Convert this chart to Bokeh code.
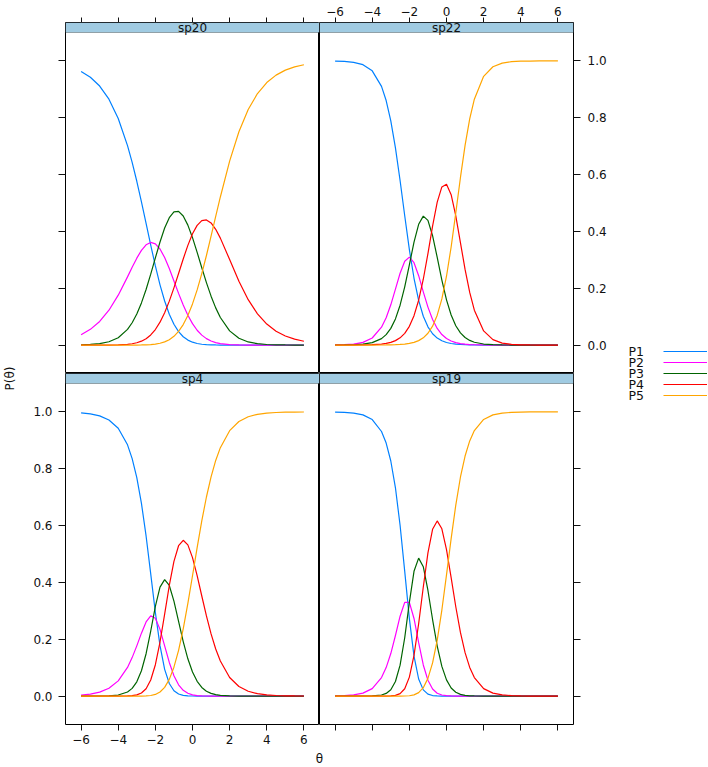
import math
from bokeh.plotting import figure
from bokeh.models import (Range1d, LinearAxis, FixedTicker, NumeralTickFormatter,
                          CustomJSTickFormatter, BoxAnnotation, Label)
from bokeh.layouts import row, column
from bokeh.embed import file_html
from bokeh.resources import INLINE

# ---------------- data ----------------
categories = ["P1", "P2", "P3", "P4", "P5"]

theta = [-6, -5.5, -5, -4.5, -4, -3.5, -3.25, -3, -2.75, -2.5, -2.25, -2, -1.75, -1.5,
         -1.25, -1, -0.75, -0.5, -0.25, 0, 0.25, 0.5, 0.75, 1, 1.25, 1.5, 2, 2.5, 3,
         3.5, 4, 4.5, 5, 5.5, 6]

sp20_P1 = [0.9626, 0.9424, 0.9116, 0.8654, 0.7976, 0.7021, 0.6430, 0.5765, 0.5041, 0.4282,
           0.3518, 0.2786, 0.2121, 0.1550, 0.1087, 0.0732, 0.0473, 0.0294, 0.0176, 0.0102,
           0.0056, 0.0030, 0.0016, 0.0008, 0.0004, 0.0002, 0, 0, 0, 0, 0, 0, 0, 0, 0]
sp20_P2 = [0.0365, 0.0554, 0.0832, 0.1227, 0.1756, 0.2400, 0.2738, 0.3059, 0.3334, 0.3528,
           0.3612, 0.3564, 0.3381, 0.3080, 0.2692, 0.2258, 0.1819, 0.1410, 0.1051, 0.0755,
           0.0523, 0.0350, 0.0227, 0.0143, 0.0087, 0.0052, 0.0017, 0.0005, 0.0002,
           0, 0, 0, 0, 0, 0]
sp20_P3 = [0.0009, 0.0022, 0.0051, 0.0117, 0.0260, 0.0552, 0.0785, 0.1093, 0.1484, 0.1956,
           0.2496, 0.3069, 0.3628, 0.4118, 0.4484, 0.4687, 0.4706, 0.4543, 0.4222, 0.3780,
           0.3264, 0.2723, 0.2198, 0.1721, 0.1309, 0.0971, 0.0500, 0.0240, 0.0110, 0.0049,
           0.0021, 0.0009, 0.0004, 0.0002, 0.0001]
sp20_P4 = [0, 0, 0.0001, 0.0002, 0.0008, 0.0026, 0.0047, 0.0081, 0.0137, 0.0225,
           0.0357, 0.0547, 0.0806, 0.1139, 0.1546, 0.2014, 0.2520, 0.3031, 0.3509, 0.3915,
           0.4213, 0.4380, 0.4406, 0.4297, 0.4073, 0.3764, 0.3010, 0.2248, 0.1599, 0.1100,
           0.0739, 0.0490, 0.0321, 0.0209, 0.0136]
sp20_P5 = [0, 0, 0, 0, 0, 0, 0.0001, 0.0002, 0.0004, 0.0009,
           0.0018, 0.0035, 0.0064, 0.0113, 0.0190, 0.0309, 0.0482, 0.0722, 0.1042, 0.1448,
           0.1942, 0.2516, 0.3153, 0.3832, 0.4527, 0.5212, 0.6472, 0.7506, 0.8289, 0.8851,
           0.9240, 0.9501, 0.9675, 0.9789, 0.9864]

sp22_P1 = [0.9993, 0.9982, 0.9951, 0.9869, 0.9651, 0.9105, 0.8606, 0.7892, 0.6942, 0.5793,
           0.4551, 0.3362, 0.2351, 0.1571, 0.1015, 0.0642, 0.0399, 0.0246, 0.0151, 0.0092,
           0.0056, 0.0034, 0.0021, 0.0013, 0.0008, 0.0005, 0.0002, 0.0001,
           0, 0, 0, 0, 0, 0, 0]
sp22_P2 = [0.0005, 0.0013, 0.0035, 0.0094, 0.0249, 0.0629, 0.0963, 0.1417, 0.1967, 0.2527,
           0.2952, 0.3095, 0.2899, 0.2442, 0.1875, 0.1336, 0.0902, 0.0586, 0.0370, 0.0231,
           0.0142, 0.0087, 0.0053, 0.0032, 0.0019, 0.0012, 0.0004, 0.0001,
           0, 0, 0, 0, 0, 0, 0]
sp22_P3 = [0.0002, 0.0004, 0.0012, 0.0032, 0.0085, 0.0228, 0.0368, 0.0588, 0.0921, 0.1404,
           0.2049, 0.2826, 0.3620, 0.4251, 0.4537, 0.4387, 0.3849, 0.3085, 0.2288, 0.1592,
           0.1058, 0.0681, 0.0428, 0.0266, 0.0164, 0.0100, 0.0037, 0.0014, 0.0005, 0.0002,
           0.0001, 0, 0, 0, 0]
sp22_P4 = [0, 0.0001, 0.0002, 0.0005, 0.0013, 0.0036, 0.0058, 0.0096, 0.0157, 0.0255,
           0.0413, 0.0659, 0.1034, 0.1579, 0.2317, 0.3220, 0.4184, 0.5030, 0.5566, 0.5662,
           0.5292, 0.4547, 0.3608, 0.2663, 0.1852, 0.1230, 0.0499, 0.0190, 0.0071, 0.0026,
           0.0009, 0.0004, 0.0001, 0, 0]
sp22_P5 = [0, 0, 0, 0, 0.0001, 0.0003, 0.0005, 0.0008, 0.0013, 0.0022,
           0.0035, 0.0058, 0.0096, 0.0157, 0.0256, 0.0415, 0.0666, 0.1053, 0.1625, 0.2423,
           0.3452, 0.4651, 0.5890, 0.7026, 0.7957, 0.8653, 0.9458, 0.9794, 0.9923, 0.9972,
           0.9990, 0.9996, 0.9999, 1.0, 1.0]

sp4_P1 = [0.9966, 0.9931, 0.9860, 0.9717, 0.9427, 0.8842, 0.8358, 0.7687, 0.6784, 0.5635,
          0.4300, 0.2941, 0.1774, 0.0942, 0.0444, 0.0189, 0.0074, 0.0027, 0.0009, 0.0003,
          0.0001, 0, 0, 0, 0, 0, 0, 0, 0, 0, 0, 0, 0, 0, 0]
sp4_P2 = [0.0034, 0.0069, 0.0138, 0.0274, 0.0535, 0.1010, 0.1354, 0.1767, 0.2214, 0.2609,
          0.2825, 0.2742, 0.2348, 0.1768, 0.1184, 0.0716, 0.0397, 0.0204, 0.0098, 0.0045,
          0.0019, 0.0008, 0.0003, 0.0001, 0, 0, 0, 0, 0, 0, 0, 0, 0, 0, 0]
sp4_P3 = [0, 0.0001, 0.0002, 0.0010, 0.0037, 0.0142, 0.0271, 0.0501, 0.0891, 0.1490,
          0.2290, 0.3154, 0.3832, 0.4096, 0.3892, 0.3340, 0.2628, 0.1919, 0.1312, 0.0847,
          0.0519, 0.0304, 0.0171, 0.0094, 0.0050, 0.0026, 0.0007, 0.0002,
          0, 0, 0, 0, 0, 0, 0]
sp4_P4 = [0, 0, 0, 0, 0.0001, 0.0006, 0.0016, 0.0043, 0.0109, 0.0259,
          0.0565, 0.1104, 0.1903, 0.2887, 0.3892, 0.4739, 0.5291, 0.5483, 0.5321, 0.4871,
          0.4236, 0.3522, 0.2820, 0.2189, 0.1658, 0.1232, 0.0653, 0.0336, 0.0170, 0.0085,
          0.0042, 0.0021, 0.0010, 0.0005, 0.0003]
sp4_P5 = [0, 0, 0, 0, 0, 0, 0, 0.0001, 0.0002, 0.0007,
          0.0021, 0.0058, 0.0143, 0.0307, 0.0588, 0.1016, 0.1610, 0.2367, 0.3260, 0.4235,
          0.5225, 0.6166, 0.7006, 0.7716, 0.8293, 0.8742, 0.9340, 0.9662, 0.9830, 0.9915,
          0.9958, 0.9979, 0.9990, 0.9995, 0.9997]

sp19_P1 = [0.9994, 0.9984, 0.9960, 0.9896, 0.9731, 0.9311, 0.8903, 0.8273, 0.7330, 0.6010,
           0.4387, 0.2726, 0.1404, 0.0601, 0.0218, 0.0069, 0.0019, 0.0005, 0.0001, 0,
           0, 0, 0, 0, 0, 0, 0, 0, 0, 0, 0, 0, 0, 0, 0]
sp19_P2 = [0.0006, 0.0016, 0.0040, 0.0104, 0.0263, 0.0651, 0.1002, 0.1497, 0.2132, 0.2811,
           0.3299, 0.3297, 0.2731, 0.1878, 0.1095, 0.0556, 0.0251, 0.0102, 0.0038, 0.0013,
           0.0004, 0.0001, 0, 0, 0, 0, 0, 0, 0, 0, 0, 0, 0, 0, 0]
sp19_P3 = [0, 0, 0, 0.0001, 0.0006, 0.0038, 0.0093, 0.0224, 0.0513, 0.1087,
           0.2052, 0.3297, 0.4391, 0.4855, 0.4554, 0.3716, 0.2694, 0.1759, 0.1045, 0.0569,
           0.0286, 0.0134, 0.0059, 0.0025, 0.0010, 0.0004, 0.0001, 0, 0, 0,
           0, 0, 0, 0, 0]
sp19_P4 = [0, 0, 0, 0, 0, 0, 0.0002, 0.0007, 0.0025, 0.0085,
           0.0259, 0.0668, 0.1431, 0.2545, 0.3838, 0.5037, 0.5870, 0.6164, 0.5888, 0.5155,
           0.4168, 0.3144, 0.2239, 0.1528, 0.1010, 0.0653, 0.0263, 0.0104, 0.0040, 0.0016,
           0.0006, 0.0002, 0.0001, 0, 0]
sp19_P5 = [0, 0, 0, 0, 0, 0, 0, 0, 0, 0.0001,
           0.0003, 0.0012, 0.0043, 0.0122, 0.0295, 0.0623, 0.1168, 0.1971, 0.3028, 0.4263,
           0.5542, 0.6721, 0.7701, 0.8447, 0.8979, 0.9342, 0.9736, 0.9896, 0.9960, 0.9984,
           0.9994, 0.9998, 0.9999, 1.0, 1.0]

x_ticks = [-6, -4, -2, 0, 2, 4, 6]
y_ticks = [0.0, 0.2, 0.4, 0.6, 0.8, 1.0]
XLIM = (-6.84, 6.84)
YLIM = (-0.1, 1.1)

# ---------------- style / layout ----------------
COLORS = ["#0080ff", "#ff00ff", "#006400", "#ff0000", "#ffa500"]
STRIP_COLOR = "#a0cbe2"
FONT = "DejaVu Sans"
TICK_FONT = "12px"
INK = "#111111"

PLOT_W, PLOT_H, STRIP_H = 254, 341, 10
TOP_B, BOT_B, LEFT_B, RIGHT_B = 22, 24, 41, 36
YLAB_W, LEG_W, XLAB_H = 24, 98, 17
strip_units = (YLIM[1] - YLIM[0]) * STRIP_H / PLOT_H
Y_END = YLIM[1] + strip_units

minus_fmt = CustomJSTickFormatter(code="return tick < 0 ? '\u2212' + String(-tick) : String(tick);")


def make_axis(kind, show_labels, tick_len, standoff):
    if kind == "x":
        ax = LinearAxis(ticker=FixedTicker(ticks=x_ticks), formatter=minus_fmt)
    else:
        ax = LinearAxis(ticker=FixedTicker(ticks=y_ticks),
                        formatter=NumeralTickFormatter(format="0.0"))
    ax.axis_line_color = None
    ax.major_tick_line_color = INK
    ax.major_tick_in = 0
    ax.major_tick_out = tick_len
    ax.minor_tick_line_color = None
    ax.major_label_standoff = standoff
    ax.major_label_text_font = FONT
    ax.major_label_text_font_size = TICK_FONT
    ax.major_label_text_color = INK if show_labels else None
    return ax


def make_panel(name, th, series, top, left):
    w = PLOT_W + (LEFT_B if left else RIGHT_B)
    h = PLOT_H + STRIP_H + (TOP_B if top else BOT_B)
    p = figure(width=w, height=h, x_range=Range1d(*XLIM), y_range=Range1d(YLIM[0], Y_END),
               toolbar_location=None, output_backend="svg",
               x_axis_location=None, y_axis_location=None)
    p.min_border_left = LEFT_B if left else 0
    p.min_border_right = 0 if left else RIGHT_B
    p.min_border_top = TOP_B if top else 0
    p.min_border_bottom = 0 if top else BOT_B
    p.outline_line_color = "black"
    p.outline_line_width = 1
    p.grid.grid_line_color = None
    p.background_fill_color = "white"
    p.border_fill_color = "white"

    for vals, col in zip(series, COLORS):
        p.line(th, vals, line_color=col, line_width=1.2)

    # strip
    p.add_layout(BoxAnnotation(bottom=YLIM[1], fill_color=STRIP_COLOR, fill_alpha=1.0,
                               line_color="black", line_width=1))
    p.add_layout(Label(x=0, y=YLIM[1] + strip_units / 2, text=name, text_align="center",
                       text_baseline="middle", text_font=FONT, text_font_size="12px",
                       text_color=INK))

    # lattice alternating axes
    if top:
        p.add_layout(make_axis("x", not left, 5, 2), "above")
    else:
        p.add_layout(make_axis("x", left, 6, 4), "below")
    if left:
        p.add_layout(make_axis("y", not top, 7, 6), "left")
    else:
        p.add_layout(make_axis("y", top, 7, 7), "right")
    return p


f_tl = make_panel("sp20", theta, [sp20_P1, sp20_P2, sp20_P3, sp20_P4, sp20_P5], True, True)
f_tr = make_panel("sp22", theta, [sp22_P1, sp22_P2, sp22_P3, sp22_P4, sp22_P5], True, False)
f_bl = make_panel("sp4", theta, [sp4_P1, sp4_P2, sp4_P3, sp4_P4, sp4_P5], False, True)
f_br = make_panel("sp19", theta, [sp19_P1, sp19_P2, sp19_P3, sp19_P4, sp19_P5], False, False)

TOTAL_H = (PLOT_H + STRIP_H) * 2 + TOP_B + BOT_B
ROW_SPLIT = PLOT_H + STRIP_H + TOP_B   # y offset (from top) of the row boundary


def blank(width, height):
    p = figure(width=width, height=height, x_range=Range1d(0, width),
               y_range=Range1d(height, 0),
               toolbar_location=None, output_backend="svg",
               x_axis_location=None, y_axis_location=None, min_border=0)
    p.outline_line_color = None
    p.grid.grid_line_color = None
    p.background_fill_color = "white"
    p.border_fill_color = "white"
    return p


# y label
ylab = blank(YLAB_W, TOTAL_H)
ylab.add_layout(Label(x=9, y=ROW_SPLIT + 5, text="P(\u03b8)", angle=math.pi / 2,
                      text_align="center", text_baseline="middle", text_font=FONT,
                      text_font_size="12px", text_color=INK))

# key (labels left of the line samples, as in lattice)
leg = blank(LEG_W, TOTAL_H)
key_y = [ROW_SPLIT + 11 * (i - 2) for i in range(len(categories))]
leg.segment(x0=[54] * 5, y0=key_y, x1=[LEG_W] * 5, y1=key_y, line_color=COLORS, line_width=1.2)
for cat, yy in zip(categories, key_y):
    leg.add_layout(Label(x=19, y=yy, text=cat, text_align="left", text_baseline="middle",
                         text_font=FONT, text_font_size="12.5px", text_color=INK))

# x label
TOTAL_W = YLAB_W + 2 * PLOT_W + LEFT_B + RIGHT_B + LEG_W
xlab = blank(TOTAL_W, XLAB_H)
xlab.add_layout(Label(x=YLAB_W + LEFT_B + PLOT_W, y=10, text="\u03b8", text_align="center",
                      text_baseline="middle", text_font=FONT, text_font_size="12px",
                      text_color=INK))

layout = column(row(ylab, column(f_tl, f_bl), column(f_tr, f_br), leg), xlab)

open("out.html", "w").write(file_html(layout, INLINE, "Category response curves"))
